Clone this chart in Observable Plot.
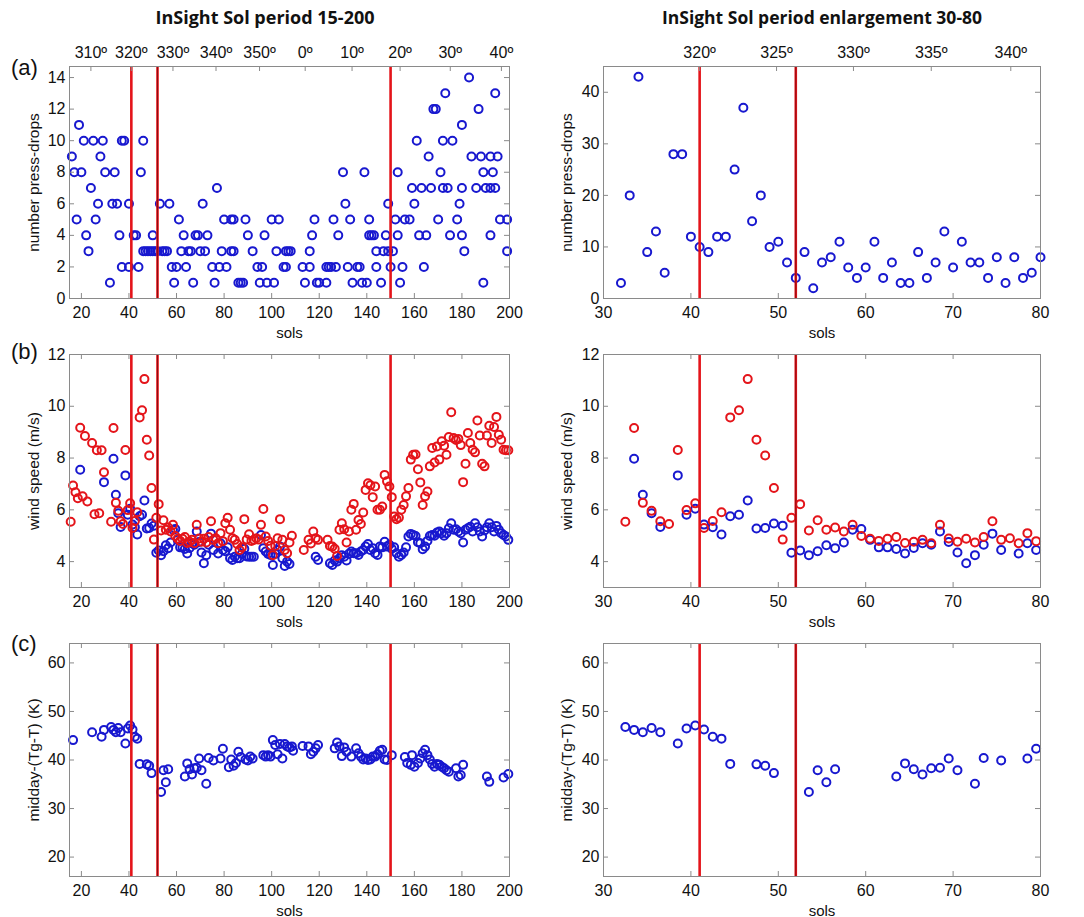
<!DOCTYPE html>
<html>
<head>
<meta charset="utf-8">
<script src="https://cdn.jsdelivr.net/npm/d3@7"></script>
<script src="https://cdn.jsdelivr.net/npm/@observablehq/plot@0.6"></script>
<style>
  html, body { margin: 0; padding: 0; background: #fff; }
  #root { position: relative; width: 1084px; height: 917px; background: #fff; overflow: hidden; }
  .title { position: absolute; top: 5px; font-family: 'Open Sans', 'Noto Sans', sans-serif; font-weight: 700; font-size: 18px; color: #111; text-align: center; white-space: nowrap; }
  .letter { position: absolute; left: 11px; font-family: 'Liberation Sans', Arial, sans-serif; font-size: 22px; color: #111; }
  svg { position: absolute; overflow: visible; }
</style>
</head>
<body>
<div id="root">
  <div class="title" style="left:65px; width:400px;">InSight Sol period 15-200</div>
  <div class="title" style="left:622px; width:400px; font-size:17.5px;">InSight Sol period enlargement 30-80</div>
  <div class="letter" style="top:55px;">(a)</div>
  <div class="letter" style="top:339px;">(b)</div>
  <div class="letter" style="top:631px;">(c)</div>
</div>
<script>
// ---------------- tick labels ----------------
const solTicksLeft = [20, 40, 60, 80, 100, 120, 140, 160, 180, 200];
const solTicksRight = [30, 40, 50, 60, 70, 80];
const lsTickSolsLeft = [24.0, 41.0, 58.5, 76.6, 94.9, 114.1, 133.8, 154.0, 175.1, 196.6];
const lsTickLabelsLeft = ["310º", "320º", "330º", "340º", "350º", "0º", "10º", "20º", "30º", "40º"];
const lsTickSolsRight = [41.0, 49.8, 58.6, 67.5, 76.6];
const lsTickLabelsRight = ["320º", "325º", "330º", "335º", "340º"];
const dropTicksLeft = [0, 2, 4, 6, 8, 10, 12, 14];
const dropTicksRight = [0, 10, 20, 30, 40];
const windTicks = [4, 6, 8, 10, 12];
const tempTicks = [20, 30, 40, 50, 60];

// ---------------- event lines (sols) ----------------
const eventSolsLeft = [41, 52, 150];
const eventSolsRight = [41, 52];
const darkEventSols = [52];

// ---------------- (a) number of pressure drops ----------------
// left panel: [count, sols having that count]
const dropsLeft = [
  [14, [183]],
  [13, [173, 194]],
  [12, [168, 169, 187]],
  [11, [19, 180]],
  [10, [21, 25, 29, 37, 38, 46, 161, 172, 176]],
  [9, [16, 28, 166, 184, 188, 192, 195]],
  [8, [17, 20, 30, 34, 45, 130, 139, 153, 171, 189, 193]],
  [7, [24, 77, 159, 163, 167, 172, 174, 180, 186, 190, 192, 194]],
  [6, [27, 33, 35, 40, 53, 57, 71, 131, 149, 160, 179]],
  [5, [18, 26, 61, 80, 83, 84, 89, 100, 103, 118, 126, 133, 141, 152, 156, 158, 170, 178, 196, 199]],
  [4, [22, 36, 42, 43, 50, 63, 68, 69, 73, 90, 97, 117, 128, 141, 142, 143, 148, 153, 162, 165, 175, 180, 192]],
  [3, [23, 46, 47, 48, 49, 50, 51, 52, 54, 55, 56, 62, 65, 66, 70, 72, 79, 83, 84, 92, 102, 106, 107, 108, 116, 144, 147, 149, 151, 181, 199]],
  [2, [37, 40, 44, 58, 60, 64, 75, 78, 81, 94, 96, 105, 106, 113, 116, 123, 124, 125, 127, 132, 136, 137, 144, 150, 155, 164]],
  [1, [32, 59, 67, 76, 86, 87, 88, 95, 98, 101, 114, 119, 120, 123, 134, 138, 140, 146, 154, 189]]
];
const dropsRightSol = [32,33,34,35,36,37,38,39,40,41,42,43,44,45,46,47,48,49,50,51,52,53,54,55,56,57,58,59,60,61,62,63,64,65,66,67,68,69,70,71,72,73,74,75,76,77,78,79,80];
const dropsRightN = [3,20,43,9,13,5,28,28,12,10,9,12,12,25,37,15,20,10,11,7,4,9,2,7,8,11,6,4,6,11,4,7,3,3,9,4,7,13,6,11,7,7,4,8,3,8,4,5,8];

// ---------------- (b) wind speed ----------------
const windSol = [32.5,33.5,34.5,35.5,36.5,37.5,38.5,39.5,40.5,41.5,42.5,43.5,44.5,45.5,46.5,47.5,48.5,49.5,50.5,51.5,52.5,53.5,54.5,55.5,56.5,57.5,58.5,59.5,60.5,61.5,62.5,63.5,64.5,65.5,66.5,67.5,68.5,69.5,70.5,71.5,72.5,73.5,74.5,75.5,76.5,77.5,78.5,79.5];
const windRed = [5.54,9.16,6.27,5.96,5.56,5.45,8.31,5.99,6.25,5.30,5.57,5.91,9.57,9.85,11.05,8.71,8.10,6.84,4.85,5.69,6.22,5.20,5.60,5.23,5.32,5.16,5.42,4.99,4.88,4.80,4.88,4.95,4.72,4.77,4.84,4.71,5.42,4.89,4.77,4.88,4.74,4.95,5.56,4.84,4.90,4.71,5.10,4.79];
const windBlue = [null,7.97,6.58,5.87,5.34,null,7.33,5.81,6.04,5.43,5.33,5.05,5.75,5.81,6.36,5.28,5.30,5.47,5.39,4.34,4.43,4.25,4.40,4.63,4.52,4.74,5.23,5.26,4.84,4.55,4.55,4.49,4.31,4.53,4.71,4.65,5.16,4.76,4.35,3.94,4.25,4.65,5.08,4.45,null,4.31,4.71,4.45];

const windRedEarlySol = [15.5,16.5,17.5,18.5,19.5,20.5,21.5,22.5,24.5,25.5,26.5,27.5,28.5,29.5];
const windRedEarly = [5.54,6.94,6.68,6.45,9.17,6.52,8.85,6.32,8.58,5.83,8.30,5.87,8.30,7.45];
const windBlueEarlySol = [19.5, 29.5];
const windBlueEarly = [7.55, 7.07];

const windRedLateSol = [80.5,81.5,82.5,83.5,84.5,85.5,86.5,87.5,88.5,89.5,90.5,91.5,92.5,93.5,94.5,95.5,96.5,97.5,98.5,99.5,100.5,101.5,102.5,103.5,104.5,105.5,106.5,107.5,108.5,113.5,115.5,116.5,117.5,118.5,119.5,123.5,124.5,125.5,126.5,127.5,128.5,129.5,130.5,131.5,132.5,133.5,134.5,135.5,136.5,137.5,138.5,139.5,140.5,141.5,142.5,143.5,144.5,145.5,146.5,147.5,148.5,149.5,150.5,151.5,152.5,153.5,154.5,155.5,156.5,157.5,158.5,159.5,160.5,161.5,162.5,163.5,164.5,165.5,166.5,167.5,168.5,169.5,170.5,171.5,172.5,173.5,174.5,175.5,176.5,177.5,178.5,179.5,180.5,181.5,182.5,183.5,184.5,185.5,186.5,187.5,188.5,189.5,190.5,191.5,192.5,193.5,194.5,195.5,196.5,197.5,198.5,199.5];
const windRedLate = [5.48,5.69,5.23,4.90,4.84,4.68,4.45,4.55,5.64,4.85,5.06,4.80,4.84,4.90,4.85,5.42,6.03,4.97,4.80,4.61,4.25,4.60,4.90,5.64,4.84,4.45,4.32,4.74,5.00,4.45,4.84,4.70,5.16,4.90,4.84,4.84,4.60,4.58,4.50,4.22,5.23,5.48,5.25,4.74,5.16,6.00,6.23,5.23,5.61,5.45,5.90,6.77,7.03,6.95,6.49,6.90,6.00,6.00,6.13,7.35,7.10,6.90,6.49,5.74,5.64,5.70,6.00,6.19,6.52,6.84,7.94,8.13,8.14,7.57,7.06,6.19,6.52,6.71,7.68,8.39,7.83,8.45,7.94,8.65,8.48,8.13,8.81,9.77,8.77,8.70,8.74,8.50,7.07,7.78,8.97,8.58,8.32,8.22,9.45,8.87,7.78,7.68,8.87,9.25,8.58,9.20,9.59,8.90,8.71,8.32,8.30,8.30];
const windBlueLateSol = [80.5,81.5,82.5,83.5,84.5,85.5,86.5,87.5,88.5,89.5,90.5,91.5,92.5,95.5,96.5,97.5,98.5,99.5,100.5,101.5,102.5,103.5,104.5,105.5,106.5,107.5,118.5,119.5,124.5,125.5,126.5,127.5,128.5,129.5,130.5,131.5,132.5,133.5,134.5,135.5,136.5,137.5,138.5,139.5,140.5,141.5,142.5,143.5,144.5,145.5,146.5,147.5,148.5,149.5,150.5,151.5,152.5,153.5,154.5,155.5,156.5,157.5,158.5,159.5,160.5,161.5,162.5,163.5,164.5,165.5,166.5,167.5,168.5,169.5,170.5,171.5,172.5,173.5,174.5,175.5,176.5,177.5,178.5,179.5,180.5,181.5,182.5,183.5,184.5,185.5,186.5,187.5,188.5,189.5,190.5,191.5,192.5,193.5,194.5,195.5,196.5,197.5,198.5,199.5];
const windBlueLate = [4.40,4.55,4.13,4.06,4.19,4.13,4.13,4.30,4.50,4.20,4.19,4.19,4.19,5.03,4.52,4.39,4.30,4.26,3.87,4.30,4.45,4.58,4.13,3.83,4.00,3.91,4.19,4.06,3.94,3.87,4.04,4.00,4.13,4.25,4.19,4.04,4.30,4.39,4.32,4.32,4.26,4.39,4.45,4.58,4.68,4.45,4.52,4.32,4.26,4.58,4.55,4.77,4.58,4.65,4.50,4.55,4.32,4.19,4.26,4.35,4.55,4.97,5.07,5.03,4.99,4.75,4.71,4.48,4.58,4.80,4.99,5.03,5.00,5.12,5.16,5.10,5.00,5.10,5.29,5.48,5.23,5.25,5.16,5.10,4.74,5.23,5.29,5.35,5.16,5.48,5.33,5.16,4.97,5.20,5.33,5.48,5.33,5.16,5.38,5.23,5.10,5.03,4.97,4.84];

// ---------------- (c) midday Tg - T ----------------
const tempSol = [32.5,33.5,34.5,35.5,36.5,38.5,39.5,40.5,41.5,42.5,43.5,44.5,47.5,48.5,49.5,53.5,54.5,55.5,56.5,63.5,64.5,65.5,66.5,67.5,68.5,69.5,70.5,72.5,73.5,75.5,78.5,79.5];
const tempK = [46.8,46.2,45.7,46.6,45.7,43.4,46.5,47.1,46.3,44.8,44.4,39.2,39.1,38.8,37.3,33.4,37.9,35.4,38.1,36.6,39.3,38.1,37.0,38.3,38.4,40.3,37.9,35.1,40.4,39.9,40.3,42.3];
const tempEarlySol = [16.5, 24.5, 28.5, 29.5];
const tempEarly = [44.1, 45.7, 44.8, 46.2];
const tempLateSol = [82,83,84,85,86,87,89,90,91,92,96.5,97.5,98.5,99.5,100.5,101.5,102.5,103.5,104.5,105.5,106.5,107.5,108.5,109,113,115.5,116.5,117.5,118.5,119.5,126.5,127.5,128.5,129.5,130.5,131.5,133.5,135.5,136.5,137.5,138.5,139.5,140.5,141.5,142.5,143.5,144.5,145.5,146.5,147.5,148.5,150.5,156,157,158.5,159,160,161.5,162.5,163.5,164.5,165.5,166.5,167.5,168.5,169.5,170.5,171.5,172.5,173.5,174.5,177.5,178.5,179.5,180.5,190.5,191.5,197.5,199.5];
const tempLate = [38.5,40.1,38.8,39.4,41.7,40.6,40.1,39.9,40.7,40.3,41.0,40.7,41.0,40.7,44.1,43.1,41.2,43.3,40.3,43.3,42.8,42.6,42.8,41.9,42.9,42.8,41.2,41.7,42.4,43.1,42.4,43.6,42.8,40.8,42.6,41.7,40.7,42.4,41.4,40.7,40.1,40.3,40.0,40.1,40.7,40.7,41.2,41.9,42.1,40.1,40.0,41.0,40.6,39.4,39.0,41.0,38.6,39.4,40.3,41.4,42.1,41.0,40.1,39.2,38.6,39.2,39.0,38.6,38.3,37.9,37.6,38.3,36.6,36.9,39.0,36.6,35.5,36.4,37.1];

// ---------------- helpers ----------------
const FONT = "'Liberation Sans', Arial, Helvetica, sans-serif";
const FS = 16;
const FRAME = "#8a8a8a";
const BLUE = "#1818cf";
const RED = "#e4141a";
const zip = (xs, ys) => xs.map((x, i) => ({x, y: ys[i]})).filter(d => d.y != null);

const dropsLeftPts = dropsLeft.flatMap(([n, sols]) => sols.map(s => ({x: s, y: n})));
const dropsRightPts = zip(dropsRightSol, dropsRightN);
const windRedRight = zip(windSol, windRed);
const windBlueRight = zip(windSol, windBlue);
const windRedLeft = [...zip(windRedEarlySol, windRedEarly), ...windRedRight, ...zip(windRedLateSol, windRedLate)];
const windBlueLeft = [...zip(windBlueEarlySol, windBlueEarly), ...windBlueRight, ...zip(windBlueLateSol, windBlueLate)];
const tempRightPts = zip(tempSol, tempK);
const tempLeftPts = [...zip(tempEarlySol, tempEarly), ...tempRightPts, ...zip(tempLateSol, tempLate)];
const lsLeft = lsTickSolsLeft.map((s, i) => ({x: s, label: lsTickLabelsLeft[i]}));
const lsRight = lsTickSolsRight.map((s, i) => ({x: s, label: lsTickLabelsRight[i]}));

const dotOpts = (color) => ({x: "x", y: "y", r: 4, stroke: color, strokeWidth: 2, fill: "none"});

function panel(o) {
  const fh = o.height - o.mt - o.mb;
  const fw = o.width - o.ml - o.mr;
  const tl = 5;
  const marks = [
    ...o.series.map(([pts, color]) => Plot.dot(pts, dotOpts(color))),
    Plot.ruleX(o.events, {x: d => d, stroke: RED, strokeWidth: 2.6}),
    Plot.ruleX(darkEventSols, {x: d => d, stroke: "#8e0c10", strokeWidth: 1}),
    Plot.frame({stroke: FRAME, strokeWidth: 1}),
    Plot.tickX(o.xTicks, {x: d => d, insetTop: fh - tl, stroke: FRAME}),
    Plot.tickX(o.ls ? o.ls.map(d => d.x) : o.xTicks, {x: d => d, insetBottom: fh - tl, stroke: FRAME}),
    Plot.tickY(o.yTicks, {y: d => d, insetRight: fw - tl, stroke: FRAME}),
    Plot.tickY(o.yTicks, {y: d => d, insetLeft: fw - tl, stroke: FRAME}),
    Plot.axisX(o.xTicks, {anchor: "bottom", tickSize: 0, tickPadding: 8, label: null, fontSize: FS, fill: "#111"}),
    Plot.axisY(o.yTicks, {anchor: "left", tickSize: 0, tickPadding: 4, label: null, fontSize: FS, fill: "#111"}),
    Plot.text(["sols"], {frameAnchor: "bottom", dy: 39, fontSize: 15, fill: "#111"}),
    Plot.text([o.yLabel], {frameAnchor: "left", textAnchor: "middle", lineAnchor: "middle", rotate: -90, dx: o.yLabelDx, fontSize: 15.5, fill: "#111"})
  ];
  if (o.ls) marks.push(Plot.text(o.ls, {x: "x", text: "label", frameAnchor: "top", dy: -20, fontSize: FS, fill: "#111"}));
  const svg = Plot.plot({
    width: o.width, height: o.height,
    marginTop: o.mt, marginBottom: o.mb, marginLeft: o.ml, marginRight: o.mr,
    x: {domain: o.xDomain, label: null},
    y: {domain: o.yDomain, label: null},
    style: {fontFamily: FONT, fontSize: FS + "px", background: "transparent", overflow: "visible"},
    marks
  });
  svg.style.position = "absolute";
  svg.style.left = o.left + "px";
  svg.style.top = o.top + "px";
  svg.style.maxWidth = "none";
  document.getElementById("root").appendChild(svg);
}

const L = {left: 0, width: 540, ml: 69, mr: 31, xDomain: [15, 200], xTicks: solTicksLeft, events: eventSolsLeft, yLabelDx: -35};
const R = {left: 540, width: 544, ml: 63, mr: 44, xDomain: [30, 80], xTicks: solTicksRight, events: eventSolsRight, yLabelDx: -36};
const rowA = {top: 0, height: 345, mt: 66, mb: 47};
const rowB = {top: 345, height: 290, mt: 9, mb: 48};
const rowC = {top: 635, height: 282, mt: 8, mb: 41};

panel({...L, ...rowA, yDomain: [0, 14.7], yTicks: dropTicksLeft, yLabel: "number press-drops", ls: lsLeft, series: [[dropsLeftPts, BLUE]]});
panel({...R, ...rowA, yDomain: [0, 45], yTicks: dropTicksRight, yLabel: "number press-drops", ls: lsRight, series: [[dropsRightPts, BLUE]]});
panel({...L, ...rowB, yDomain: [3, 12], yTicks: windTicks, yLabel: "wind speed (m/s)", series: [[windBlueLeft, BLUE], [windRedLeft, RED]]});
panel({...R, ...rowB, yDomain: [3, 12], yTicks: windTicks, yLabel: "wind speed (m/s)", series: [[windBlueRight, BLUE], [windRedRight, RED]]});
panel({...L, ...rowC, yDomain: [16, 64], yTicks: tempTicks, yLabel: "midday-(Tg-T) (K)", series: [[tempLeftPts, BLUE]]});
panel({...R, ...rowC, yDomain: [16, 64], yTicks: tempTicks, yLabel: "midday-(Tg-T) (K)", series: [[tempRightPts, BLUE]]});
</script>
</body>
</html>
